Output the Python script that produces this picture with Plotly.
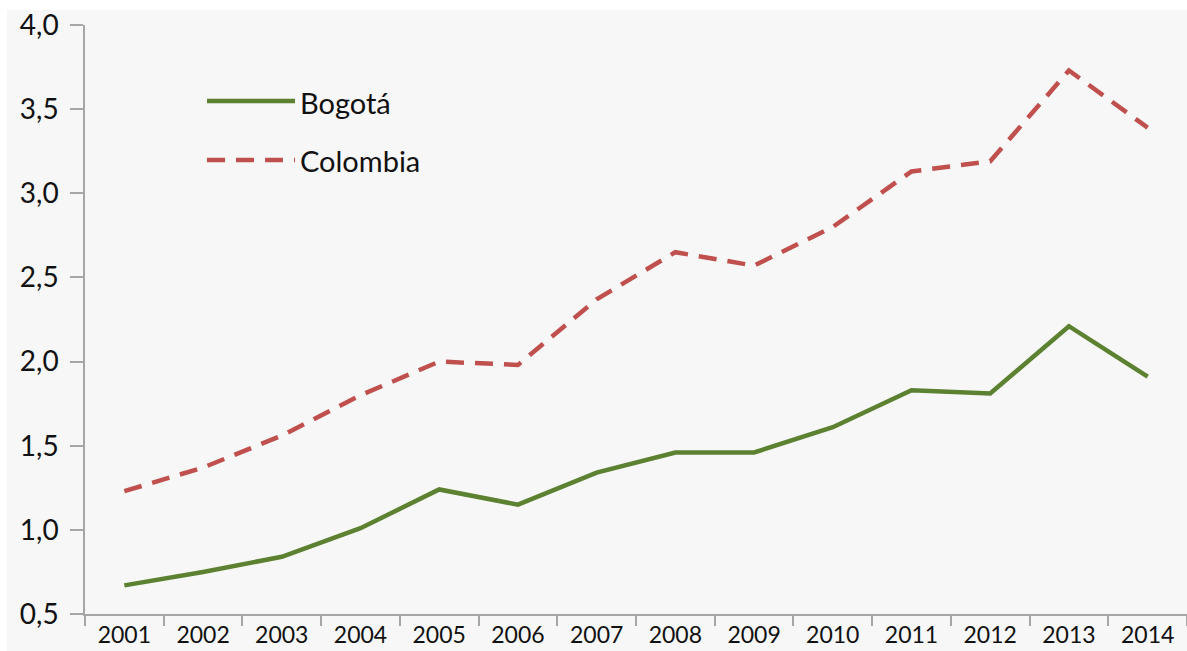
import plotly.graph_objects as go

years = ["2001", "2002", "2003", "2004", "2005", "2006", "2007",
         "2008", "2009", "2010", "2011", "2012", "2013", "2014"]
bogota = [0.67, 0.75, 0.84, 1.01, 1.24, 1.15, 1.34, 1.46, 1.46, 1.61, 1.83, 1.81, 2.21, 1.91]
colombia = [1.23, 1.37, 1.56, 1.80, 2.00, 1.98, 2.37, 2.65, 2.57, 2.80, 3.13, 3.19, 3.73, 3.39]
y_ticks = [0.5, 1.0, 1.5, 2.0, 2.5, 3.0, 3.5, 4.0]
y_tick_labels = [f"{v:.1f}".replace(".", ",") for v in y_ticks]

GREEN = "#5b8131"
RED = "#c0504d"
FONT = "Lato, 'Open Sans', sans-serif"

W, H = 1187, 651
L, R, T, B = 85, 0, 25, 37
pw = W - L - R
ph = H - T - B

fig = go.Figure()
fig.add_trace(go.Scatter(x=years, y=bogota, mode="lines", name="Bogotá",
                         line=dict(color=GREEN, width=4.5), showlegend=False))
fig.add_trace(go.Scatter(x=years, y=colombia, mode="lines", name="Colombia",
                         line=dict(color=RED, width=4.5, dash="18px,11px"), showlegend=False))

shapes = [
    # white strips framing the gray page
    dict(type="rect", xref="paper", yref="paper", x0=-L / pw, x1=1.01, y0=1 + 15 / ph, y1=1 + T / ph + 0.01,
         fillcolor="white", line=dict(width=0), layer="below"),
    dict(type="rect", xref="paper", yref="paper", x0=-L / pw - 0.01, x1=-(L - 7) / pw, y0=-B / ph - 0.01, y1=1 + T / ph + 0.01,
         fillcolor="white", line=dict(width=0), layer="below"),
    # legend keys
    dict(type="line", xref="paper", yref="paper", x0=(207 - L) / pw, x1=(295 - L) / pw,
         y0=1 - (101 - T) / ph, y1=1 - (101 - T) / ph, line=dict(color=GREEN, width=4.5)),
    dict(type="line", xref="paper", yref="paper", x0=(207 - L) / pw, x1=(295 - L) / pw,
         y0=1 - (160 - T) / ph, y1=1 - (160 - T) / ph, line=dict(color=RED, width=4.5, dash="18px,11px")),
]
annotations = [
    dict(text="Bogotá", xref="paper", yref="paper", x=(298 - L) / pw, y=1 - (102 - T) / ph,
         xanchor="left", yanchor="middle", showarrow=False, font=dict(size=29, color="#111", family=FONT)),
    dict(text="Colombia", xref="paper", yref="paper", x=(298 - L) / pw, y=1 - (161 - T) / ph,
         xanchor="left", yanchor="middle", showarrow=False, font=dict(size=29, color="#111", family=FONT)),
]

fig.update_layout(
    width=W, height=H,
    margin=dict(l=L, r=R, t=T, b=B, pad=0),
    paper_bgcolor="#f7f7f7",
    plot_bgcolor="#f7f7f7",
    font=dict(family=FONT, color="#111"),
    shapes=shapes,
    annotations=annotations,
    showlegend=False,
    xaxis=dict(
        type="category", range=[-0.5, 13.5], tickson="boundaries",
        ticks="outside", ticklen=10, tickcolor="#a6a6a6", tickwidth=1.5,
        showline=True, linecolor="#a6a6a6", linewidth=1.5,
        showgrid=False, zeroline=False,
        tickfont=dict(size=23, family=FONT, color="#111"),
    ),
    yaxis=dict(
        range=[0.5, 4.0], tickvals=y_ticks, ticktext=y_tick_labels,
        ticks="outside", ticklen=13, tickcolor="#a6a6a6", tickwidth=1.5,
        showline=True, linecolor="#a6a6a6", linewidth=1.5,
        showgrid=False, zeroline=False,
        tickfont=dict(size=28, family=FONT, color="#111"),
        ticklabelstandoff=6,
    ),
)

fig.write_html("out.html")
